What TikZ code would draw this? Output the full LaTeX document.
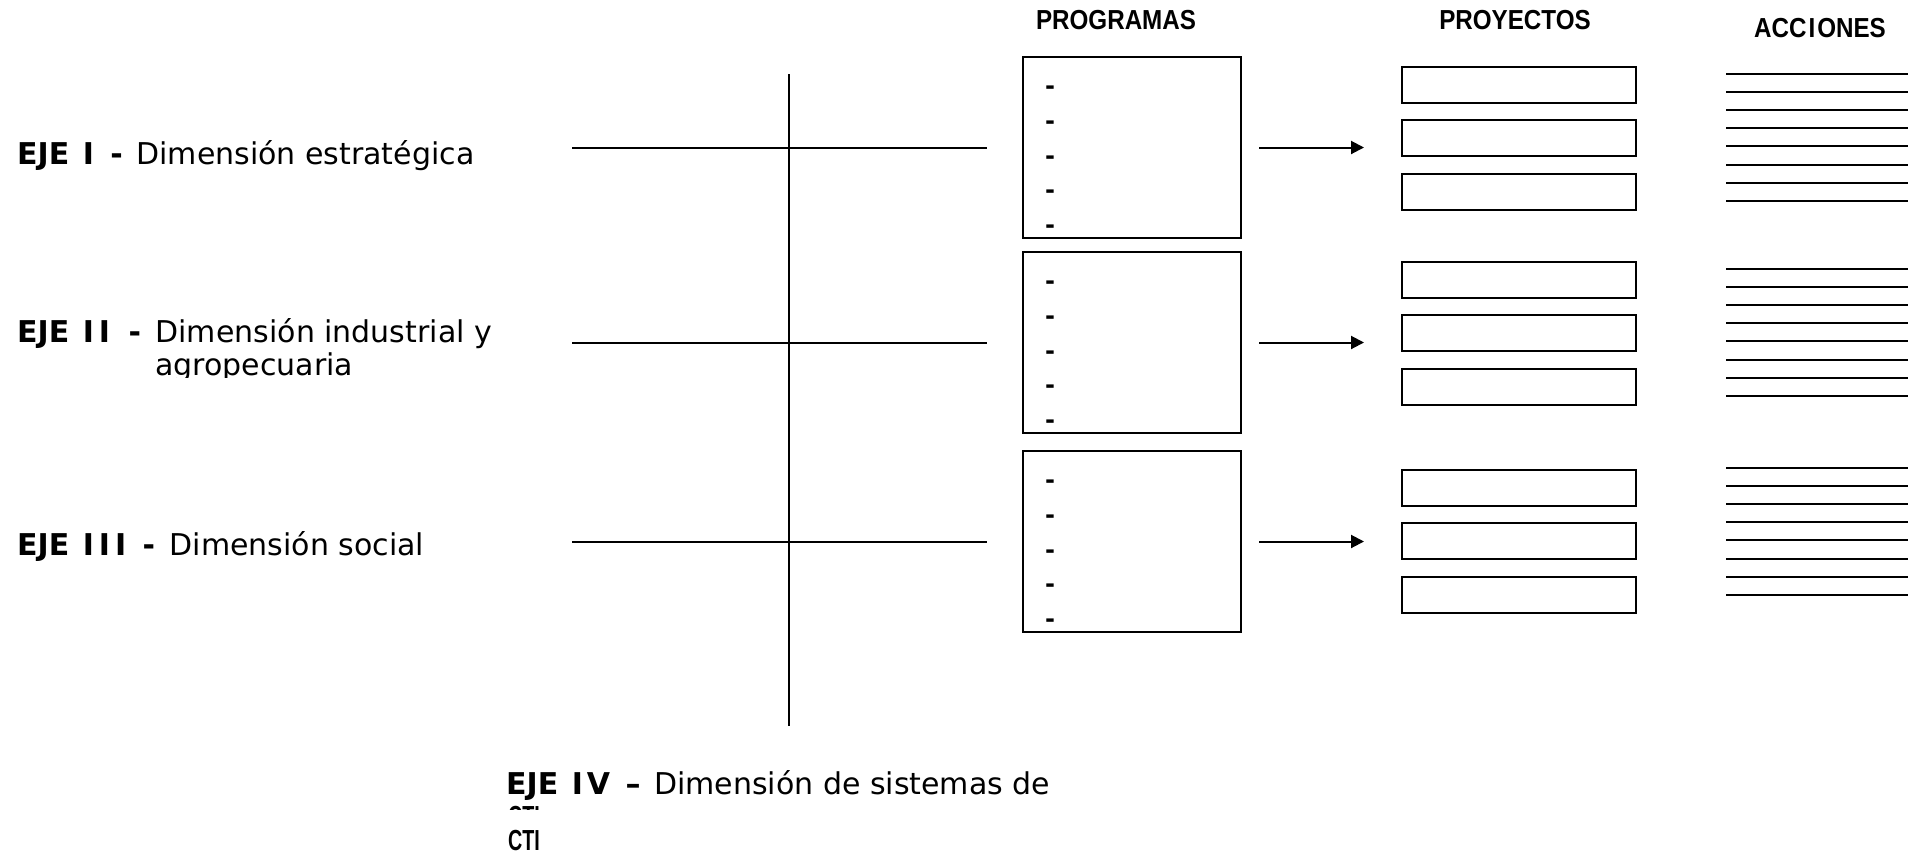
\documentclass[tikz,border=0pt]{standalone}
\usepackage{fontspec}
\setmainfont{DejaVu Sans}
\newfontfamily\headfont[FakeStretch=0.88]{Liberation Sans}
\newfontfamily\ctifont[FakeStretch=0.68]{Liberation Sans}
\usetikzlibrary{arrows.meta}

\begin{document}
\begin{tikzpicture}[x=1pt,y=-1pt,
		prog/.style={draw, line width=2pt, minimum width=218pt, minimum height=181pt, inner sep=0pt},
		proy/.style={draw, line width=2pt, minimum width=234pt, minimum height=36pt, inner sep=0pt},
		eje/.style={anchor=base west, inner sep=0pt, font=\fontsize{30}{36}\selectfont},
		cti/.style={anchor=base west, inner sep=0pt, font=\ctifont\bfseries\fontsize{29}{34}\selectfont},
		titulo/.style={inner sep=0pt, font=\headfont\bfseries\fontsize{27.5}{32}\selectfont},
		guion/.style={anchor=base, inner sep=0pt, font=\bfseries\fontsize{24}{28}\selectfont},
		linea/.style={line width=2pt},
		flecha/.style={line width=2pt, -{Triangle[length=13pt,width=13pt]}}]
		\fill[white] (0,0) rectangle (1916,854);
		\useasboundingbox (0,0) rectangle (1916,854);
		
		% titulos
		\node[titulo] (tprog) at (1116,20) {PROGRAMAS};
		\node[titulo] (tproy) at (1515,20) {PROYECTOS};
		\node[titulo] (tacc) at (1820,28) {ACC\hspace{2pt}I\hspace{2pt}ONES};
		
		% ejes
		\node[eje] (eje1) at (17,164) {\textbf{EJE\hspace{3pt} I\hspace{6pt} -\hspace{4pt}} Dimensión estratégica};
		\node[eje] (eje2) at (17,342) {\textbf{EJE\hspace{3pt} I\hspace{5pt}I\hspace{8pt} -\hspace{5pt}} Dimensión industrial y};
		\begin{scope}
			\clip (140,352) rectangle (440,377);
			\node[eje] (eje2b) at (155,375) {agropecuaria};
		\end{scope}
		\node[eje] (eje3) at (17,555) {\textbf{EJE\hspace{3pt} I\hspace{5pt}I\hspace{5pt}I\hspace{6pt} -\hspace{5pt}} Dimensión social};
		\node[eje] (eje4) at (506,794) {\textbf{EJE\hspace{3pt} I\hspace{4pt}V\hspace{5pt} –\hspace{4pt}} Dimensión de sistemas de};
		\begin{scope}
			\clip (500,800) rectangle (560,809);
			\node[cti] (cti0) at (508,826) {CTI};
		\end{scope}
		\node[cti] (cti) at (508,850) {CTI};
		
		% eje vertical
		\coordinate (vtop) at (789,74);
		\coordinate (vbot) at (789,726);
		\draw[linea] (vtop) -- (vbot);
		
		% programas
		\node[prog] (p1) at (1132,147.5) {};
		\node[prog] (p2) at (1132,342.5) {};
		\node[prog] (p3) at (1132,541.5) {};
		\foreach \i in {1,2,3}
		\foreach \d in {32,67,102,136,171}
		\node[guion] at ([shift={(28,\d+6)}]p\i.north west) {-};
		
		% proyectos
		\foreach \i/\a in {1/29,2/29,3/38}
		\foreach \k/\b in {1/0,2/53,3/107}
		\node[proy] (py\i\k) at ([shift={(497,\a+\b)}]p\i.north west) {};
		
		% lineas y flechas
		\foreach \i/\y in {1/147.5,2/342.5,3/541.5}{
			\coordinate (e\i) at (572,\y);
			\draw[linea, shorten >=35pt] (e\i) -- (p\i.west);
			\draw[flecha, shorten <=17pt, shorten >=37pt] (p\i.east) -- (p\i.east -| py\i2.west);
		}
		
		% acciones
		\foreach \i in {1,2,3}
		\foreach \k in {0,...,7}
		\draw[linea] ([shift={(704,18+18.1*\k)}]p\i.north west) -- ++(182,0);
		
	\end{tikzpicture}
\end{document}
